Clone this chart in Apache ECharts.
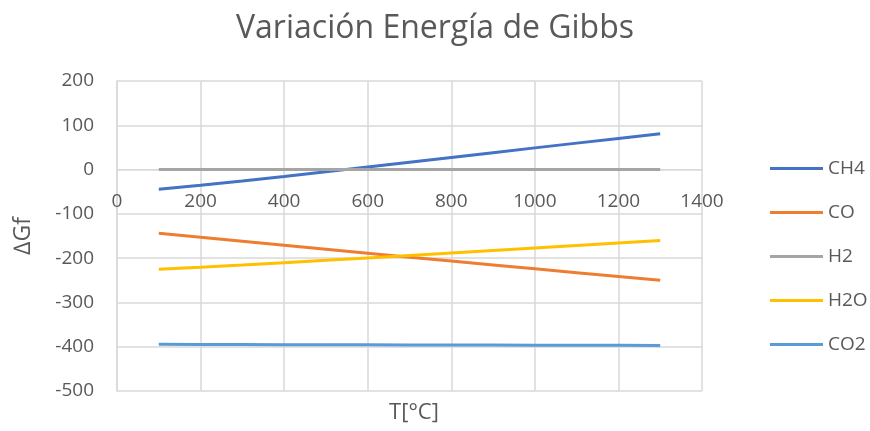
<!DOCTYPE html>
<html>
<head>
<meta charset="utf-8">
<script src="https://cdn.jsdelivr.net/npm/echarts@6/dist/echarts.min.js"></script>
<style>
  html, body { margin: 0; padding: 0; background: #fff; }
  #chart { width: 870px; height: 431px; }
</style>
</head>
<body>
<div id="chart"></div>
<script>
// temperatures, °C
const temps = [100, 200, 300, 400, 500, 600, 700, 800, 900, 1000, 1100, 1200, 1300];
// ΔGf values, kJ/mol
const ch4 = [-44.7, -35.3, -25.6, -15.4, -4.9, 5.9, 16.6, 27.4, 38.2, 49.0, 59.7, 70.4, 81.1];
const co = [-143.8, -153.0, -162.0, -171.0, -180.0, -189.0, -198.0, -206.7, -215.5, -224.2, -232.8, -241.4, -249.9];
const h2 = [0, 0, 0, 0, 0, 0, 0, 0, 0, 0, 0, 0, 0];
const h2o = [-225.3, -220.4, -215.4, -210.2, -205.0, -199.6, -194.1, -188.5, -182.9, -177.3, -171.6, -165.9, -160.3];
const co2 = [-394.6, -394.8, -395.0, -395.3, -395.5, -395.7, -395.9, -396.1, -396.3, -396.5, -396.7, -396.9, -397.1];

const names = ["CH4", "CO", "H2", "H2O", "CO2"];
const colors = ["#4472C4", "#ED7D31", "#A5A5A5", "#FFC000", "#5B9BD5"];
const values = [ch4, co, h2, h2o, co2];

const font = "'Open Sans', sans-serif";
const textColor = "#595959";

const chart = echarts.init(document.getElementById("chart"));
chart.setOption({
  animation: false,
  title: [
    {
      text: "Variación Energía de Gibbs",
      left: "center",
      top: 8,
      textStyle: { fontFamily: font, fontSize: 32, fontWeight: "normal", color: textColor },
    },
    {
      text: "T[°C]",
      left: 409,
      textAlign: "center",
      top: 397,
      textStyle: { fontFamily: font, fontSize: 22, fontWeight: "normal", color: textColor },
    },
  ],
  legend: {
    orient: "vertical",
    left: 765,
    top: 154,
    itemGap: 25,
    itemWidth: 53,
    itemHeight: 3,
    icon: "rect",
    textStyle: { fontFamily: font, fontSize: 19, color: textColor },
    data: names,
  },
  grid: { left: 117, right: 168, top: 81, bottom: 40, outerBoundsMode: "none" },
  xAxis: {
    type: "value",
    min: 0,
    max: 1400,
    interval: 200,
    offset: -221.5,
    axisLine: { onZero: false, lineStyle: { color: "#d9d9d9", width: 1 } },
    axisTick: { show: false },
    axisLabel: { fontFamily: font, fontSize: 19, color: textColor, margin: 23, formatter: (v) => String(v) },
    splitLine: { lineStyle: { color: "#d9d9d9", width: 1.5 } },
  },
  yAxis: {
    type: "value",
    min: -500,
    max: 200,
    interval: 100,
    name: "∆Gf",
    nameLocation: "middle",
    nameGap: 82,
    nameTextStyle: { fontFamily: font, fontSize: 23, color: textColor },
    axisLine: { show: true, lineStyle: { color: "#d9d9d9", width: 1.5 } },
    axisTick: { show: false },
    axisLabel: { fontFamily: font, fontSize: 19, color: textColor, margin: 23 },
    splitLine: { lineStyle: { color: "#d9d9d9", width: 1.5 } },
  },
  series: names.map((name, i) => ({
    name: name,
    type: "line",
    showSymbol: false,
    color: colors[i],
    lineStyle: { width: 3, color: colors[i] },
    data: temps.map((t, j) => [t, values[i][j]]),
  })),
});
</script>
</body>
</html>
